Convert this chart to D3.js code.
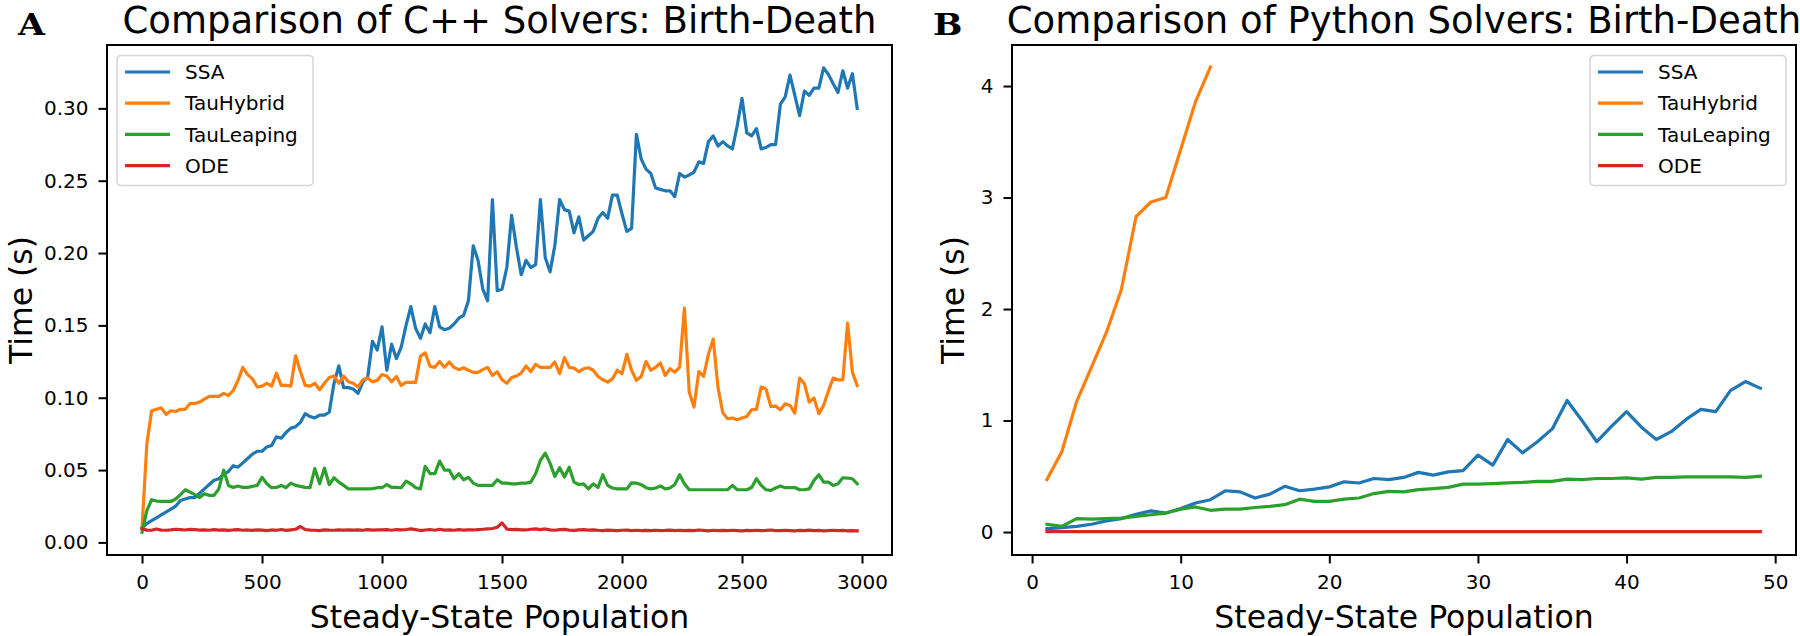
<!DOCTYPE html>
<html>
<head>
<meta charset="utf-8">
<script src="https://cdn.jsdelivr.net/npm/d3@7"></script>
<style>
  html, body { margin: 0; padding: 0; background: #fff; }
  svg { display: block; }
  text { font-family: "DejaVu Sans", sans-serif; fill: #000; }
</style>
</head>
<body>
<svg id="chart" width="1800" height="636"></svg>
<script>
// ---------------- DATA ----------------
const seriesNames = ["SSA", "TauHybrid", "TauLeaping", "ODE"];
const seriesColors = ["#1f77b4", "#ff7f0e", "#2ca02c", "#d62728"];

// Panel A: C++ solvers, population 0..2980 step 20
const cppPopulation = d3.range(0, 3000, 20);
const cppSSA = [
 0.010,0.013,0.015,0.017,0.019,0.021,0.023,0.025,0.029,0.030,
 0.031,0.031,0.034,0.037,0.040,0.043,0.044,0.047,0.049,0.053,
 0.052,0.055,0.058,0.061,0.063,0.063,0.066,0.067,0.073,0.072,
 0.076,0.079,0.080,0.083,0.089,0.087,0.086,0.088,0.088,0.090,
 0.110,0.122,0.107,0.107,0.106,0.103,0.111,0.114,0.139,0.133,
 0.149,0.119,0.137,0.127,0.135,0.150,0.163,0.148,0.141,0.151,
 0.145,0.163,0.149,0.147,0.148,0.151,0.155,0.157,0.167,0.205,
 0.195,0.175,0.167,0.237,0.174,0.175,0.190,0.226,0.204,0.185,
 0.195,0.190,0.192,0.237,0.197,0.187,0.205,0.237,0.230,0.229,
 0.214,0.225,0.209,0.212,0.215,0.224,0.228,0.224,0.240,0.240,
 0.227,0.215,0.217,0.282,0.265,0.258,0.255,0.245,0.244,0.243,
 0.243,0.239,0.255,0.2525,0.254,0.256,0.263,0.262,0.277,0.281,
 0.274,0.277,0.274,0.272,0.288,0.307,0.283,0.281,0.286,0.272,
 0.273,0.275,0.275,0.303,0.308,0.323,0.309,0.295,0.312,0.309,
 0.314,0.314,0.328,0.3235,0.317,0.311,0.326,0.314,0.324,0.300
];
const cppTauHybrid = [
 0.010,0.068,0.091,0.092,0.093,0.0885,0.091,0.0905,0.092,0.092,
 0.096,0.096,0.097,0.099,0.101,0.101,0.101,0.103,0.1016,0.105,
 0.112,0.121,0.116,0.113,0.1074,0.108,0.110,0.108,0.117,0.1085,
 0.1085,0.108,0.129,0.118,0.1085,0.108,0.110,0.1055,0.110,0.114,
 0.115,0.110,0.115,0.111,0.110,0.1074,0.1124,0.1136,0.111,0.112,
 0.116,0.115,0.111,0.1147,0.1085,0.1106,0.1106,0.1106,0.1286,0.131,
 0.1217,0.121,0.125,0.121,0.1247,0.121,0.1194,0.1207,0.119,0.1175,
 0.1175,0.1194,0.121,0.1154,0.118,0.1124,0.110,0.114,0.115,0.117,
 0.122,0.118,0.123,0.121,0.121,0.121,0.1247,0.1166,0.1277,0.121,
 0.1205,0.118,0.120,0.1207,0.119,0.1147,0.1124,0.1108,0.113,0.119,
 0.1166,0.130,0.119,0.112,0.1147,0.125,0.119,0.121,0.124,0.1154,
 0.120,0.1177,0.121,0.162,0.104,0.0935,0.118,0.1147,0.130,0.1405,
 0.107,0.0896,0.0855,0.086,0.0848,0.086,0.087,0.0917,0.092,0.1074,
 0.106,0.094,0.0942,0.0917,0.0958,0.0947,0.0894,0.1136,0.1097,0.097,
 0.0998,0.089,0.0947,0.1046,0.1136,0.1124,0.1124,0.1516,0.1177,0.1085
];
const cppTauLeaping = [
 0.007,0.022,0.0295,0.0286,0.0283,0.0283,0.0283,0.030,0.033,0.0364,
 0.0348,0.033,0.031,0.0336,0.0325,0.0325,0.037,0.050,0.0394,0.038,
 0.039,0.038,0.038,0.0387,0.0394,0.045,0.0405,0.0378,0.038,0.0394,
 0.0378,0.041,0.0394,0.0387,0.038,0.0378,0.051,0.0405,0.0514,0.040,
 0.0447,0.0417,0.0394,0.037,0.037,0.037,0.037,0.037,0.0372,0.0378,
 0.0378,0.040,0.038,0.038,0.0378,0.0424,0.0405,0.0378,0.037,0.0525,
 0.0475,0.0475,0.0562,0.050,0.050,0.044,0.0475,0.0433,0.045,0.041,
 0.0394,0.0394,0.0394,0.0394,0.0433,0.041,0.041,0.0405,0.0405,0.041,
 0.041,0.0417,0.0475,0.0567,0.0617,0.0548,0.0456,0.0516,0.0452,0.052,
 0.0417,0.040,0.0405,0.037,0.0405,0.038,0.0468,0.0394,0.0376,0.037,
 0.037,0.037,0.0412,0.041,0.0399,0.0378,0.037,0.0376,0.039,0.037,
 0.0376,0.040,0.0468,0.0406,0.0364,0.0364,0.0364,0.0364,0.0364,0.0364,
 0.0364,0.0364,0.0364,0.0394,0.0364,0.0364,0.0364,0.038,0.044,0.0394,
 0.0364,0.036,0.0376,0.039,0.0378,0.0378,0.038,0.0364,0.0364,0.037,
 0.0429,0.0468,0.0417,0.0417,0.0394,0.0406,0.0447,0.0445,0.044,0.0406
];
const cppODE = [
 0.0095,0.0085,0.0084,0.0093,0.0085,0.0084,0.0087,0.0091,0.0089,0.0086,
 0.0090,0.0089,0.0085,0.0087,0.0084,0.0088,0.0085,0.0087,0.0083,0.0086,
 0.0088,0.0084,0.0086,0.0083,0.0087,0.0085,0.0081,0.0086,0.0084,0.0089,
 0.0083,0.0087,0.0091,0.0110,0.0089,0.0085,0.0084,0.0082,0.0087,0.0085,
 0.0084,0.0086,0.0085,0.0087,0.0085,0.0086,0.0084,0.0088,0.0085,0.0087,
 0.0086,0.0088,0.0084,0.0089,0.0087,0.0089,0.0093,0.0088,0.0082,0.0086,
 0.0089,0.0084,0.0091,0.0085,0.0087,0.0084,0.0088,0.0085,0.0087,0.0086,
 0.0089,0.0091,0.0094,0.0096,0.0105,0.0135,0.0092,0.0089,0.0090,0.0087,
 0.0086,0.0091,0.0094,0.0088,0.0093,0.0087,0.0084,0.0088,0.0090,0.0085,
 0.0083,0.0087,0.0088,0.0085,0.0087,0.0084,0.0082,0.0085,0.0083,0.0081,
 0.0084,0.0085,0.0082,0.0084,0.0081,0.0083,0.0082,0.0084,0.0082,0.0083,
 0.0085,0.0082,0.0084,0.0081,0.0083,0.0082,0.0086,0.0083,0.0080,0.0084,
 0.0082,0.0083,0.0081,0.0084,0.0082,0.0080,0.0083,0.0082,0.0084,0.0081,
 0.0083,0.0086,0.0082,0.0081,0.0084,0.0082,0.0080,0.0083,0.0081,0.0085,
 0.0081,0.0083,0.0080,0.0082,0.0084,0.0081,0.0083,0.0080,0.0082,0.0080
];

// Panel B: Python solvers, population 1..49
const pyPopulation = d3.range(1, 50);
const pySSA = [
 0.03,0.04,0.05,0.07,0.10,0.12,0.16,0.19,0.17,0.21,
 0.26,0.29,0.37,0.36,0.305,0.34,0.41,0.37,0.385,0.405,
 0.45,0.44,0.48,0.47,0.49,0.535,0.51,0.54,0.55,0.69,
 0.60,0.83,0.71,0.81,0.925,1.18,1.00,0.81,0.95,1.08,
 0.94,0.83,0.90,1.01,1.10,1.08,1.27,1.35,1.29
];
const pyTauHybrid = [0.47,0.72,1.17,1.48,1.79,2.17,2.83,2.96,3.00,3.43,3.86,4.17];
const pyTauLeaping = [
 0.07,0.05,0.12,0.115,0.12,0.125,0.14,0.155,0.17,0.205,
 0.225,0.195,0.205,0.205,0.22,0.23,0.245,0.295,0.275,0.275,
 0.295,0.305,0.345,0.365,0.36,0.38,0.39,0.40,0.43,0.43,
 0.435,0.44,0.445,0.455,0.455,0.475,0.47,0.48,0.48,0.485,
 0.475,0.49,0.49,0.495,0.495,0.495,0.495,0.49,0.50
];
const pyODE = [
 0.003,0.003,0.003,0.003,0.003,0.003,0.003,0.003,0.003,0.003,
 0.004,0.003,0.003,0.003,0.003,0.003,0.003,0.003,0.003,0.003,
 0.003,0.003,0.003,0.003,0.003,0.003,0.003,0.003,0.003,0.003,
 0.003,0.003,0.003,0.003,0.003,0.003,0.003,0.003,0.003,0.003,
 0.003,0.003,0.003,0.003,0.003,0.003,0.003,0.003,0.003
];

const cppXTicks = [0, 500, 1000, 1500, 2000, 2500, 3000];
const cppYTicks = [0, 0.05, 0.10, 0.15, 0.20, 0.25, 0.30];
const pyXTicks = [0, 10, 20, 30, 40, 50];
const pyYTicks = [0, 1, 2, 3, 4];

// ---------------- DRAW ----------------
const svg = d3.select("#chart");

function panel(opts) {
  const {left, right, top, bottom, xDomain, yDomain, xTicks, yTicks, yFmt,
         xs, series, title, letter, letterX, yLabelX, legendX} = opts;
  const x = d3.scaleLinear().domain(xDomain).range([left, right]);
  const y = d3.scaleLinear().domain(yDomain).range([bottom, top]);
  const g = svg.append("g");

  const line = d3.line().x(d => x(d[0])).y(d => y(d[1]));
  series.forEach((vals, k) => {
    const pts = vals.map((v, i) => [xs[i], v]);
    g.append("path").datum(pts)
      .attr("d", line)
      .attr("fill", "none")
      .attr("stroke", seriesColors[k])
      .attr("stroke-width", 3.2)
      .attr("stroke-linejoin", "round")
      .attr("stroke-linecap", "square");
  });

  const xAxis = d3.axisBottom(x).tickValues(xTicks).tickSize(8.5).tickPadding(11)
    .tickFormat(d3.format("d"));
  const yAxis = d3.axisLeft(y).tickValues(yTicks).tickSize(8.5).tickPadding(10)
    .tickFormat(yFmt);
  const gx = g.append("g").attr("transform", `translate(0,${bottom})`).call(xAxis);
  const gy = g.append("g").attr("transform", `translate(${left},0)`).call(yAxis);
  [gx, gy].forEach(a => {
    a.select(".domain").remove();
    a.selectAll(".tick line").attr("stroke", "#000").attr("stroke-width", 2);
    a.selectAll(".tick text").attr("font-size", 20).attr("font-family", "DejaVu Sans").attr("fill", "#000");
  });

  g.append("rect").attr("x", left).attr("y", top)
    .attr("width", right - left).attr("height", bottom - top)
    .attr("fill", "none").attr("stroke", "#000").attr("stroke-width", 2);

  g.append("text").attr("x", (left + right) / 2).attr("y", 33)
    .attr("text-anchor", "middle").attr("font-size", 37).text(title);

  g.append("text").attr("x", (left + right) / 2).attr("y", 628)
    .attr("text-anchor", "middle").attr("font-size", 31.5).text("Steady-State Population");
  g.append("text")
    .attr("transform", `translate(${yLabelX},${(top + bottom) / 2}) rotate(-90)`)
    .attr("text-anchor", "middle").attr("font-size", 31.5).text("Time (s)");

  g.append("text")
    .attr("transform", `translate(${letterX},35) scale(1.2,1)`)
    .attr("font-weight", "bold")
    .attr("font-size", 29).style("font-family", "'DejaVu Serif', serif")
    .text(letter);

  const lg = g.append("g").attr("transform", `translate(${legendX},${top + 10.5})`);
  lg.append("rect").attr("x", 0).attr("y", 0).attr("width", 196).attr("height", 130)
    .attr("rx", 4).attr("ry", 4)
    .attr("fill", "rgba(255,255,255,0.8)").attr("stroke", "#d6d6d6").attr("stroke-width", 1.6);
  seriesNames.forEach((name, k) => {
    const yy = 16.5 + k * 31.2;
    lg.append("line").attr("x1", 8).attr("x2", 53).attr("y1", yy).attr("y2", yy)
      .attr("stroke", seriesColors[k]).attr("stroke-width", 3.2);
    lg.append("text").attr("x", 68).attr("y", yy).attr("dy", "0.36em")
      .attr("font-size", 20).text(name);
  });
}

panel({
  left: 107, right: 892, top: 45, bottom: 555,
  xDomain: [-146, 3125], yDomain: [-0.0087, 0.3438],
  xTicks: cppXTicks, yTicks: cppYTicks, yFmt: d3.format(".2f"),
  xs: cppPopulation,
  series: [cppSSA, cppTauHybrid, cppTauLeaping, cppODE],
  title: "Comparison of C++ Solvers: Birth-Death",
  letter: "A", letterX: 18, yLabelX: 32, legendX: 117
});

panel({
  left: 1012, right: 1796, top: 45, bottom: 555,
  xDomain: [-1.35, 51.4], yDomain: [-0.206, 4.368],
  xTicks: pyXTicks, yTicks: pyYTicks, yFmt: d3.format("d"),
  xs: pyPopulation,
  series: [pySSA, pyTauHybrid, pyTauLeaping, pyODE],
  title: "Comparison of Python Solvers: Birth-Death",
  letter: "B", letterX: 933, yLabelX: 964, legendX: 1590
});
</script>
</body>
</html>
